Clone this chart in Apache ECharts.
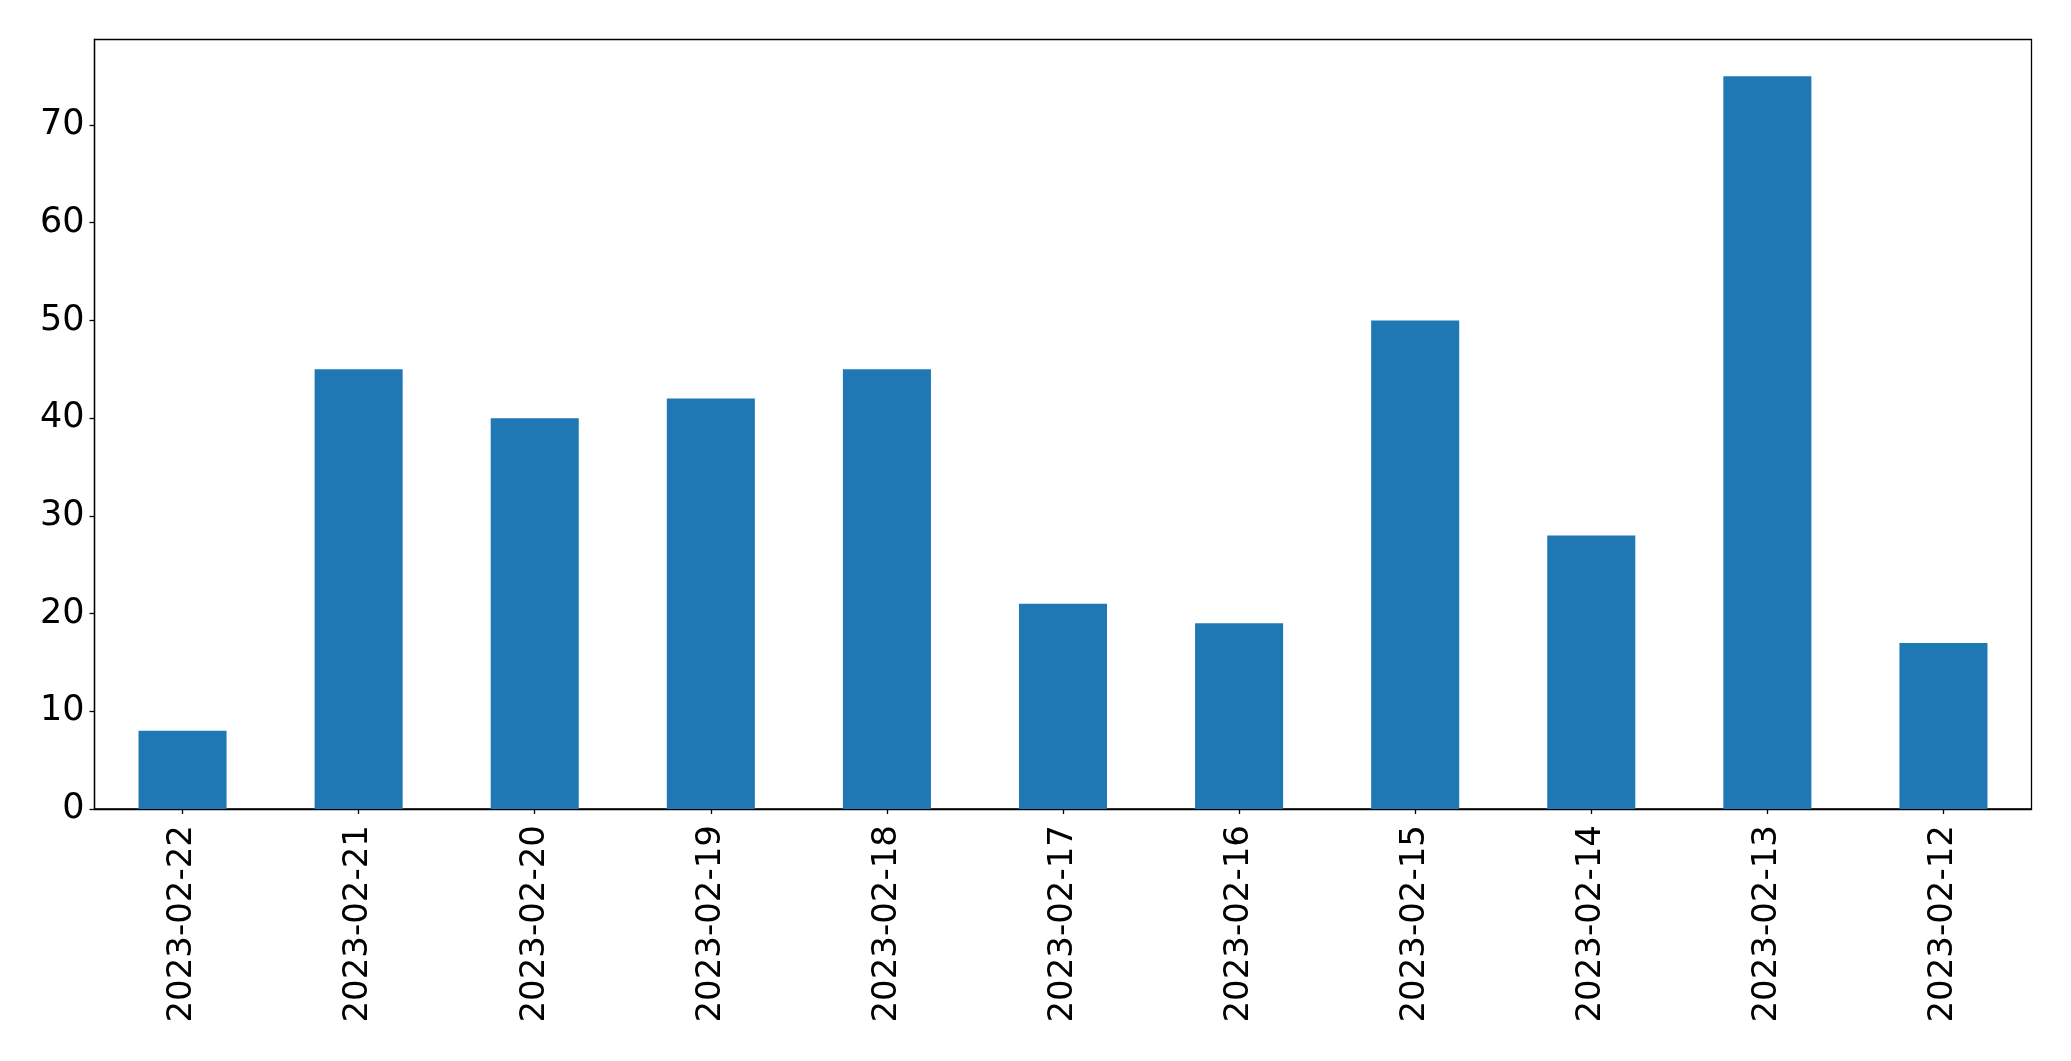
<!DOCTYPE html>
<html>
<head>
<meta charset="utf-8">
<script src="https://cdn.jsdelivr.net/npm/echarts@6/dist/echarts.min.js"></script>
<style>
html,body{margin:0;padding:0;background:#fff;}
#chart{width:2071px;height:1061px;}
</style>
</head>
<body>
<div id="chart"></div>
<script>
const categories = ['2023-02-22','2023-02-21','2023-02-20','2023-02-19','2023-02-18','2023-02-17','2023-02-16','2023-02-15','2023-02-14','2023-02-13','2023-02-12'];
const values = [8, 45, 40, 42, 45, 21, 19, 50, 28, 75, 17];
const yTicks = [0, 10, 20, 30, 40, 50, 60, 70];

const chart = echarts.init(document.getElementById('chart'));
chart.setOption({
  animation: false,
  backgroundColor: '#fff',
  grid: {
    left: 94.5, right: 39.5, top: 39.5, bottom: 252,
    show: true, borderColor: '#000', borderWidth: 1.3, backgroundColor: 'transparent'
  },
  xAxis: {
    type: 'category',
    data: categories,
    boundaryGap: true,
    axisLine: { show: true, lineStyle: { color: '#000', width: 1.3 } },
    axisTick: { show: true, alignWithLabel: true, length: 5, lineStyle: { color: '#000', width: 1.3 } },
    axisLabel: {
      rotate: 90, margin: 16, interval: 0,
      color: '#000', fontSize: 34, fontFamily: 'DejaVu Sans'
    },
    splitLine: { show: false }
  },
  yAxis: {
    type: 'value',
    min: 0, max: 78.75, interval: 10,
    axisLine: { show: true, lineStyle: { color: '#000', width: 1.3 } },
    axisTick: { show: true, length: 5, lineStyle: { color: '#000', width: 1.3 } },
    axisLabel: {
      margin: 10, color: '#000', fontSize: 35, fontFamily: 'DejaVu Sans',
      showMaxLabel: false,
      formatter: function (v) { return yTicks.indexOf(v) >= 0 ? String(v) : ''; }
    },
    splitLine: { show: false }
  },
  series: [{
    type: 'bar',
    data: values,
    barWidth: '50%',
    itemStyle: { color: '#1f77b4' }
  }]
});
</script>
</body>
</html>
